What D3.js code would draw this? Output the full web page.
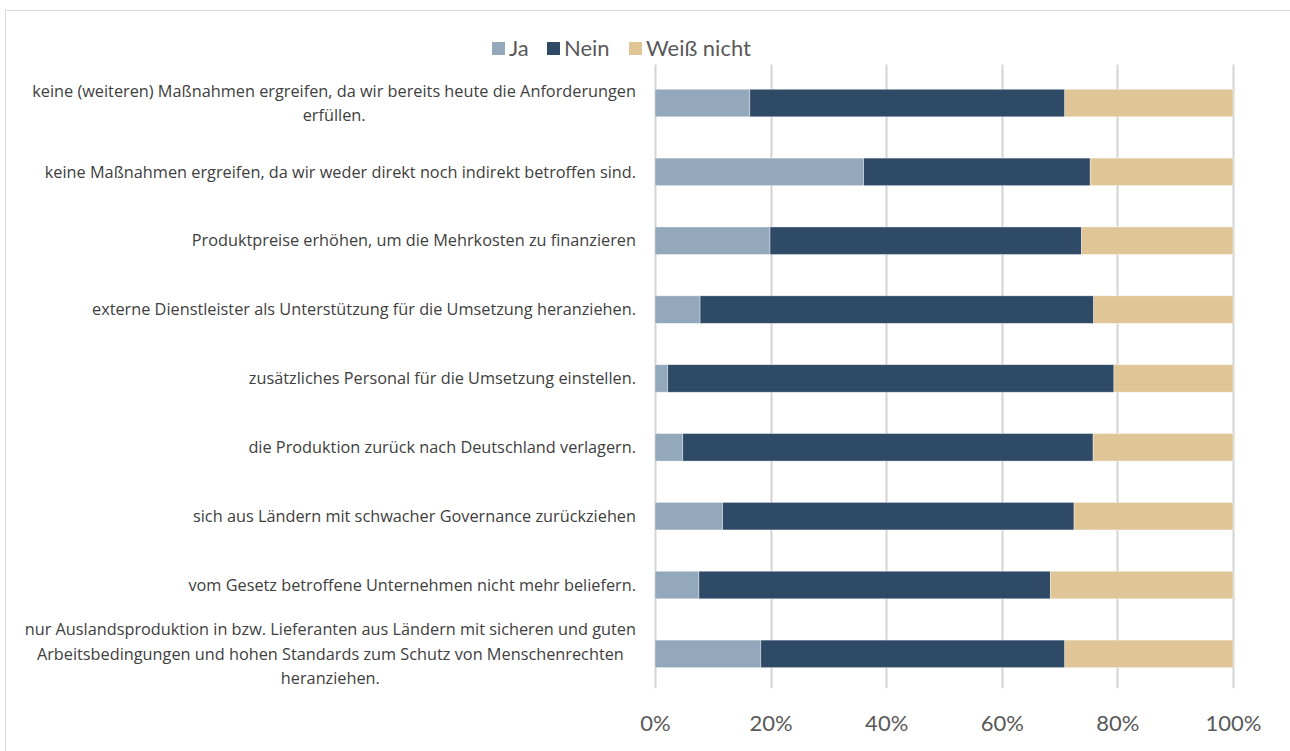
<!DOCTYPE html>
<html>
<head>
<meta charset="utf-8">
<script src="https://cdn.jsdelivr.net/npm/d3@7"></script>
<style>
    body { margin: 0; background: #ffffff; }
    svg { display: block; font-family: Lato, "Open Sans", sans-serif; }
</style>
</head>
<body>
<svg id="chart" width="1290" height="751"></svg>
<script>
// categories, top to bottom (each entry = lines of the wrapped label)
var categories = [
    ['keine (weiteren) Maßnahmen ergreifen, da wir bereits heute die Anforderungen', 'erfüllen.'],
    ['keine Maßnahmen ergreifen, da wir weder direkt noch indirekt betroffen sind.'],
    ['Produktpreise erhöhen, um die Mehrkosten zu finanzieren'],
    ['externe Dienstleister als Unterstützung für die Umsetzung heranziehen.'],
    ['zusätzliches Personal für die Umsetzung einstellen.'],
    ['die Produktion zurück nach Deutschland verlagern.'],
    ['sich aus Ländern mit schwacher Governance zurückziehen'],
    ['vom Gesetz betroffene Unternehmen nicht mehr beliefern.'],
    ['nur Auslandsproduktion in bzw. Lieferanten aus Ländern mit sicheren und guten', 'Arbeitsbedingungen und hohen Standards zum Schutz von Menschenrechten', 'heranziehen.']
];
var seriesNames = ['Ja', 'Nein', 'Weiß nicht'];
var ja = [16.4, 36.1, 19.9, 7.8, 2.2, 4.8, 11.7, 7.6, 18.3];
var nein = [54.5, 39.2, 53.9, 68.1, 77.2, 71.0, 60.8, 60.8, 52.6];
var weissNicht = [29.1, 24.7, 26.2, 24.1, 20.6, 24.2, 27.5, 31.6, 29.1];
var ticks = [0, 20, 40, 60, 80, 100];
var colors = ['#94a8bc', '#2e4a66', '#e0c597'];

(function() {
    var svg = d3.select('#chart');

    // outer frame of the chart area
    svg.append('rect')
        .attr('x', 5.5)
        .attr('y', 10.5)
        .attr('width', 1400)
        .attr('height', 900)
        .attr('fill', '#ffffff')
        .attr('stroke', '#d9d9d9')
        .attr('stroke-width', 1);

    var margin = {top: 68.6, left: 655, right: 57, bottom: 62.7};
    var width = 1290 - margin.left - margin.right;
    var height = 751 - margin.top - margin.bottom;

    var table = categories.map(function(c, i) {
        return {idx: i, lines: c, 'Ja': ja[i], 'Nein': nein[i], 'Weiß nicht': weissNicht[i]};
    });

    var x = d3.scaleLinear().domain([0, 100]).range([0, width]);
    var y = d3.scaleBand()
        .domain(table.map(function(d) { return d.idx; }))
        .range([0, height])
        .paddingInner(0.6)
        .paddingOuter(0.3);
    var color = d3.scaleOrdinal().domain(seriesNames).range(colors);

    var g = svg.append('g')
        .attr('transform', 'translate(' + margin.left + ',' + margin.top + ')');

    // gridlines
    g.append('g')
        .attr('class', 'grid')
        .selectAll('line')
        .data(ticks)
        .enter().append('line')
        .attr('x1', function(d) { return Math.round(x(d)) + 0.5; })
        .attr('x2', function(d) { return Math.round(x(d)) + 0.5; })
        .attr('y1', -4)
        .attr('y2', height)
        .attr('stroke', '#d4d4d4')
        .attr('stroke-width', 2);

    var stack = d3.stack().keys(seriesNames);
    var layers = stack(table);

    g.selectAll('.layer')
        .data(layers)
        .enter().append('g')
        .attr('class', 'layer')
        .attr('fill', function(d) { return color(d.key); })
        .selectAll('rect')
        .data(function(d) { return d; })
        .enter().append('rect')
        .attr('x', function(d) { return x(d[0]); })
        .attr('y', function(d) { return y(d.data.idx); })
        .attr('width', function(d) { return x(d[1]) - x(d[0]); })
        .attr('height', y.bandwidth())
        .attr('stroke', '#ffffff')
        .attr('stroke-opacity', 0.5)
        .attr('stroke-width', 0.75);

    // x axis labels
    var xAxis = g.append('g')
        .attr('transform', 'translate(0,' + height + ')')
        .call(d3.axisBottom(x).tickValues(ticks).tickSize(0).tickPadding(27)
            .tickFormat(function(d) { return d + '%'; }));
    xAxis.select('.domain').remove();
    xAxis.selectAll('text')
        .attr('fill', '#595959')
        .style('font-size', '22px')
        .style('font-family', 'Lato, "Open Sans", sans-serif');

    // category labels, wrapped lines centred as a block, right edge at 636
    var labelRight = 636 - margin.left;
    var lineH = 24.3;
    var labels = g.append('g').attr('class', 'labels');
    table.forEach(function(d) {
        var cy = y(d.idx) + y.bandwidth() / 2;
        var t = labels.append('g');
        var texts = t.selectAll('text')
            .data(d.lines)
            .enter().append('text')
            .attr('y', function(l, i) { return cy + (i - (d.lines.length - 1) / 2) * lineH; })
            .attr('dy', '0.35em')
            .attr('fill', '#404040')
            .style('font-family', '"Open Sans", sans-serif')
            .style('font-size', '16.3px')
            .text(function(l) { return l; });
        var maxW = 0;
        texts.each(function() { maxW = Math.max(maxW, this.getComputedTextLength()); });
        texts.attr('text-anchor', 'middle')
            .attr('x', labelRight - maxW / 2);
    });

    // legend
    var legendItems = [
        {name: 'Ja', x: 492},
        {name: 'Nein', x: 547},
        {name: 'Weiß nicht', x: 629}
    ];
    var legend = svg.append('g').attr('class', 'legend');
    var items = legend.selectAll('g')
        .data(legendItems)
        .enter().append('g')
        .attr('transform', function(d) { return 'translate(' + d.x + ',48)'; });
    items.append('rect')
        .attr('x', 0)
        .attr('y', -6)
        .attr('width', 13)
        .attr('height', 13)
        .attr('fill', function(d) { return color(d.name); });
    items.append('text')
        .attr('x', 17)
        .attr('y', 0)
        .attr('dy', '0.35em')
        .attr('fill', '#595959')
        .style('font-size', '22px')
        .text(function(d) { return d.name; });
})();
</script>
</body>
</html>
